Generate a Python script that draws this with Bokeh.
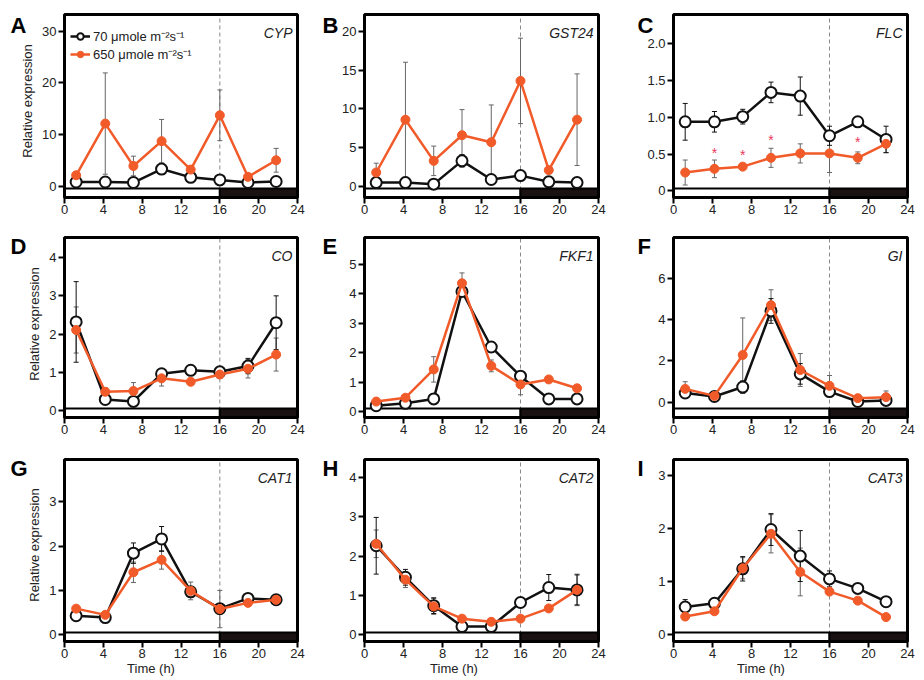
from bokeh.plotting import figure
from bokeh.layouts import column, row
from bokeh.models import Range1d, FixedTicker, Label, Legend, LegendItem, ColumnDataSource
from bokeh.core.properties import value
from bokeh.embed import file_html
from bokeh.resources import INLINE

# ---------------- data ----------------
TIME = [1.2, 4.2, 7.1, 10.0, 13.0, 16.0, 18.9, 21.8]
LIGHT = [0, 16]
DARK = [16, 24]
X_TICKS = [0, 4, 8, 12, 16, 20, 24]
LABEL_LOW = "70 \u03bcmole m\u207b\u00b2s\u207b\u00b9"
LABEL_HIGH = "650 \u03bcmole m\u207b\u00b2s\u207b\u00b9"

CYP_70 = [0.8, 0.8, 0.7, 3.3, 1.7, 1.2, 0.7, 0.9]
CYP_70_SD = [0.2, 0.2, 0.2, 1.0, 0.3, 0.2, 0.2, 0.2]
CYP_650 = [2.1, 12.1, 3.9, 8.7, 3.2, 13.7, 1.8, 5.0]
CYP_650_SD = [0.5, 9.8, 1.9, 4.2, 0.5, 4.9, 0.3, 2.3]

GST24_70 = [0.5, 0.5, 0.3, 3.3, 0.9, 1.4, 0.6, 0.5]
GST24_70_SD = [0.1, 0.1, 0.1, 0.8, 0.2, 0.3, 0.1, 0.1]
GST24_650 = [1.8, 8.6, 3.3, 6.6, 5.7, 13.6, 2.1, 8.6]
GST24_650_SD = [1.2, 7.4, 1.9, 3.3, 4.8, 5.5, 0.3, 5.9]

FLC_70 = [0.94, 0.94, 1.01, 1.34, 1.29, 0.75, 0.94, 0.70]
FLC_70_SD = [0.25, 0.14, 0.10, 0.14, 0.26, 0.13, 0.05, 0.18]
FLC_650 = [0.25, 0.30, 0.33, 0.45, 0.51, 0.51, 0.45, 0.64]
FLC_650_SD = [0.17, 0.12, 0.03, 0.13, 0.13, 0.26, 0.08, 0.12]
FLC_SIG_T = [4.2, 7.1, 10.0, 18.9]
FLC_SIG_Y = [0.52, 0.49, 0.69, 0.66]

CO_70 = [2.32, 0.30, 0.25, 0.97, 1.06, 1.02, 1.17, 2.30]
CO_70_SD = [1.05, 0.05, 0.05, 0.10, 0.08, 0.05, 0.20, 0.70]
CO_650 = [2.11, 0.50, 0.52, 0.85, 0.76, 0.95, 1.10, 1.47]
CO_650_SD = [0.60, 0.10, 0.22, 0.20, 0.08, 0.10, 0.24, 0.43]

FKF1_70 = [0.20, 0.28, 0.43, 4.07, 2.19, 1.20, 0.43, 0.43]
FKF1_70_SD = [0.05, 0.05, 0.08, 0.15, 0.10, 0.10, 0.05, 0.05]
FKF1_650 = [0.34, 0.47, 1.43, 4.35, 1.55, 0.92, 1.09, 0.79]
FKF1_650_SD = [0.05, 0.05, 0.43, 0.35, 0.20, 0.35, 0.08, 0.05]

GI_70 = [0.44, 0.27, 0.73, 4.43, 1.37, 0.51, 0.03, 0.08]
GI_70_SD = [0.10, 0.05, 0.30, 0.60, 0.50, 0.20, 0.05, 0.05]
GI_650 = [0.64, 0.30, 2.29, 4.71, 1.56, 0.79, 0.19, 0.24]
GI_650_SD = [0.35, 0.05, 1.80, 0.75, 0.80, 0.50, 0.10, 0.30]

CAT1_70 = [0.43, 0.39, 1.84, 2.16, 0.97, 0.59, 0.82, 0.79]
CAT1_70_SD = [0.05, 0.05, 0.23, 0.28, 0.05, 0.05, 0.05, 0.05]
CAT1_650 = [0.59, 0.45, 1.41, 1.69, 0.99, 0.58, 0.72, 0.79]
CAT1_650_SD = [0.05, 0.05, 0.23, 0.21, 0.20, 0.42, 0.05, 0.05]

CAT2_70 = [2.26, 1.46, 0.74, 0.21, 0.21, 0.82, 1.20, 1.14]
CAT2_70_SD = [0.72, 0.20, 0.20, 0.05, 0.05, 0.10, 0.33, 0.38]
CAT2_650 = [2.31, 1.40, 0.72, 0.41, 0.33, 0.41, 0.67, 1.14]
CAT2_650_SD = [0.35, 0.20, 0.20, 0.05, 0.05, 0.05, 0.05, 0.40]

CAT3_70 = [0.52, 0.59, 1.24, 1.98, 1.48, 1.05, 0.87, 0.62]
CAT3_70_SD = [0.14, 0.05, 0.23, 0.30, 0.48, 0.15, 0.05, 0.05]
CAT3_650 = [0.34, 0.44, 1.25, 1.90, 1.18, 0.81, 0.64, 0.33]
CAT3_650_SD = [0.03, 0.03, 0.20, 0.36, 0.45, 0.05, 0.05, 0.03]

# ---------------- styling / layout ----------------
FONT = "Liberation Sans"
BLACK = "#111111"
ORANGE = "#f15a29"
ERR_GREY = "#666666"
COL_LEFT = [64, 59, 63]
FRAME_W = [233, 234, 234]
COL_RIGHT = [8, 12, 17]
ROW_TOP = [14, 11, 15]
FRAME_H = [183, 180, 182]
ROW_BOTTOM = [29, 27, 39]
LETTER_DX = [-54, -42, -36]
LETTER_DY = [-11, -9, -9]
BAR_PX = 9
PAD = 2


def make_panel(ci, ri, letter, gene, low, low_sd, high, high_sd, yr, yticks,
               legend=False, overrides=None, sig=None):
    w = COL_LEFT[ci] + FRAME_W[ci] + COL_RIGHT[ci]
    h = ROW_TOP[ri] + FRAME_H[ri] + ROW_BOTTOM[ri]
    ymin, ymax = yr
    ppx = FRAME_W[ci] / 24.0
    ppy = FRAME_H[ri] / (ymax - ymin)
    x_rng = Range1d(-(COL_LEFT[ci] - PAD) / ppx, 24 + PAD / ppx)
    y_rng = Range1d(ymin - PAD / ppy, ymax + (ROW_TOP[ri] - PAD) / ppy)
    p = figure(width=w, height=h, x_range=x_rng, y_range=y_rng,
               output_backend="svg", toolbar_location=None,
               min_border_left=PAD, min_border_right=COL_RIGHT[ci] - PAD,
               min_border_top=PAD, min_border_bottom=ROW_BOTTOM[ri] - PAD)
    p.extra_y_ranges = {"px": Range1d(-PAD, FRAME_H[ri] + ROW_TOP[ri] - PAD)}
    p.xgrid.visible = False
    p.ygrid.visible = False
    p.outline_line_color = None
    p.background_fill_color = "white"
    p.border_fill_color = "white"

    for ax in (p.xaxis[0], p.yaxis[0]):
        ax.axis_line_color = None
        ax.major_tick_line_width = 2
        ax.major_tick_line_color = "black"
        ax.minor_tick_line_color = None
        ax.major_label_text_font = FONT
        ax.major_label_text_font_size = "13px"
        ax.major_label_text_color = "#222222"
        ax.axis_label_text_font = FONT
        ax.axis_label_text_font_size = "13px"
        ax.axis_label_text_font_style = "normal"
        ax.axis_label_text_color = "#222222"
    p.xaxis.ticker = FixedTicker(ticks=X_TICKS)
    p.xaxis.major_tick_in = PAD
    p.xaxis.major_tick_out = 4
    p.xaxis.major_label_standoff = 1
    p.yaxis.fixed_location = 0
    p.yaxis.ticker = FixedTicker(ticks=yticks)
    p.yaxis.major_tick_in = 0
    p.yaxis.major_tick_out = 6
    p.yaxis.major_label_standoff = 2
    if overrides:
        p.yaxis.major_label_overrides = overrides
    if ci == 0:
        p.yaxis.axis_label = "Relative expression"
        p.yaxis.axis_label_standoff = 4
    if ri == 2:
        p.xaxis.axis_label = "Time (h)"
        p.xaxis.axis_label_standoff = 0

    # dashed line at dusk
    p.segment(x0=[DARK[0]], y0=[ymin], x1=[DARK[0]], y1=[ymax], line_color="#8a8a8a",
              line_dash="4 3", line_width=1)
    # light / dark bar
    p.quad(left=[LIGHT[0], DARK[0]], right=[LIGHT[1], DARK[1]], bottom=0, top=BAR_PX,
           fill_color=["white", "#1a1212"], line_color="black", line_width=2,
           y_range_name="px")
    # box around the panel
    p.quad(left=[0], right=[24], bottom=[ymin], top=[ymax], fill_color=None,
           line_color="black", line_width=3)

    src_low = ColumnDataSource(dict(x=TIME, y=low,
                                    top=[a + b for a, b in zip(low, low_sd)],
                                    bot=[a - b for a, b in zip(low, low_sd)]))
    src_high = ColumnDataSource(dict(x=TIME, y=high,
                                     top=[a + b for a, b in zip(high, high_sd)],
                                     bot=[a - b for a, b in zip(high, high_sd)]))
    for src, col in ((src_high, ERR_GREY), (src_low, BLACK)):
        p.segment(x0="x", y0="bot", x1="x", y1="top", source=src, line_color=col, line_width=1)
        p.scatter(x="x", y="top", source=src, marker="dash", size=5, line_color=col, line_width=1)
        p.scatter(x="x", y="bot", source=src, marker="dash", size=5, line_color=col, line_width=1)

    l1 = p.line(x="x", y="y", source=src_low, line_color=BLACK, line_width=2.5)
    s1 = p.scatter(x="x", y="y", source=src_low, marker="circle", size=11,
                   fill_color="white", line_color=BLACK, line_width=2)
    l2 = p.line(x="x", y="y", source=src_high, line_color=ORANGE, line_width=2.5)
    s2 = p.scatter(x="x", y="y", source=src_high, marker="circle", size=9,
                   fill_color=ORANGE, line_color=ORANGE, line_width=1)

    if sig is not None:
        p.text(x=sig[0], y=sig[1], text=["*"] * len(sig[0]), text_color="#e8385a",
               text_font=value(FONT), text_font_size="14px", text_align="center",
               text_baseline="middle")

    if legend:
        frame_h = FRAME_H[ri] + ROW_TOP[ri]
        lg = Legend(items=[LegendItem(label=LABEL_LOW, renderers=[l1, s1]),
                           LegendItem(label=LABEL_HIGH, renderers=[l2, s2])],
                    location=(COL_LEFT[ci] + 6 - PAD, frame_h - 61 + 0),
                    margin=0, padding=0, spacing=-8,
                    glyph_width=20, glyph_height=16, label_height=16,
                    label_standoff=3, border_line_color=None,
                    background_fill_alpha=0.0,
                    label_text_font=FONT, label_text_font_size="13px",
                    label_text_color="#222222")
        p.add_layout(lg)

    p.add_layout(Label(x=24, y=ymax, x_offset=-5, y_offset=-18, text=gene,
                       text_align="right", text_baseline="alphabetic",
                       text_font=FONT, text_font_size="14px",
                       text_font_style="italic", text_color="#222222"))
    p.add_layout(Label(x=0, y=ymax, x_offset=LETTER_DX[ci], y_offset=LETTER_DY[ri],
                       text=letter, text_align="left", text_baseline="alphabetic",
                       text_font=FONT, text_font_size="22px",
                       text_font_style="bold", text_color="black"))
    return p


pA = make_panel(0, 0, "A", "CYP", CYP_70, CYP_70_SD, CYP_650, CYP_650_SD,
                (-2.2, 33.2), [0, 10, 20, 30], legend=True)
pB = make_panel(1, 0, "B", "GST24", GST24_70, GST24_70_SD, GST24_650, GST24_650_SD,
                (-1.42, 22.15), [0, 5, 10, 15, 20])
pC = make_panel(2, 0, "C", "FLC", FLC_70, FLC_70_SD, FLC_650, FLC_650_SD,
                (-0.09, 2.40), [0, 0.5, 1, 1.5, 2],
                overrides={0: "0", 0.5: "0.5", 1: "1.0", 1.5: "1.5", 2: "2.0"},
                sig=(FLC_SIG_T, FLC_SIG_Y))
pD = make_panel(0, 1, "D", "CO", CO_70, CO_70_SD, CO_650, CO_650_SD,
                (-0.17, 4.52), [0, 1, 2, 3, 4])
pE = make_panel(1, 1, "E", "FKF1", FKF1_70, FKF1_70_SD, FKF1_650, FKF1_650_SD,
                (-0.2, 5.9), [0, 1, 2, 3, 4, 5])
pF = make_panel(2, 1, "F", "GI", GI_70, GI_70_SD, GI_650, GI_650_SD,
                (-0.75, 8.0), [0, 2, 4, 6])
pG = make_panel(0, 2, "G", "CAT1", CAT1_70, CAT1_70_SD, CAT1_650, CAT1_650_SD,
                (-0.15, 3.95), [0, 1, 2, 3])
pH = make_panel(1, 2, "H", "CAT2", CAT2_70, CAT2_70_SD, CAT2_650, CAT2_650_SD,
                (-0.17, 4.45), [0, 1, 2, 3, 4])
pI = make_panel(2, 2, "I", "CAT3", CAT3_70, CAT3_70_SD, CAT3_650, CAT3_650_SD,
                (-0.13, 3.30), [0, 1, 2, 3])

layout = column(row(pA, pB, pC), row(pD, pE, pF), row(pG, pH, pI))

with open("out.html", "w") as f:
    f.write(file_html(layout, INLINE))
